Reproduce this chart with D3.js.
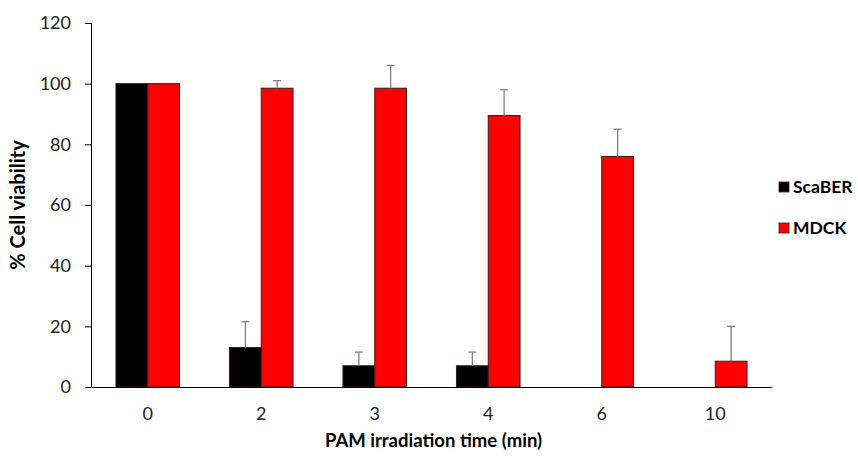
<!DOCTYPE html>
<html>
<head>
<meta charset="utf-8">
<style>
  body { margin: 0; background: #fff; }
  text { font-family: Lato, "Open Sans", sans-serif; }
</style>
</head>
<body>
<script src="https://d3js.org/d3.v7.min.js"></script>
<script>
  // data
  var times = ["0", "2", "3", "4", "6", "10"];
  var seriesNames = ["ScaBER", "MDCK"];
  var seriesColors = ["#000000", "#ff0000"];
  var scaber = [100, 13, 7, 7, 0, 0];
  var scaberErr = [0, 8.5, 4.5, 4.5, 0, 0];
  var mdck = [100, 98.5, 98.5, 89.5, 76, 8.5];
  var mdckErr = [0, 2.5, 7.5, 8.5, 9, 11.5];
  var yTicks = [0, 20, 40, 60, 80, 100, 120];

  var W = 858, H = 460;
  var margin = {top: 23, right: 86, bottom: 73, left: 91},
      width = W - margin.left - margin.right,
      height = H - margin.top - margin.bottom;

  var svg = d3.select("body").append("svg")
      .attr("width", W).attr("height", H);
  var g = svg.append("g")
      .attr("transform", "translate(" + margin.left + "," + margin.top + ")");

  var x0 = d3.scaleBand().domain(times).range([0, width]).paddingInner(0.44).paddingOuter(0.22);
  var x1 = d3.scaleBand().domain(seriesNames).range([0, x0.bandwidth()]);
  var y = d3.scaleLinear().domain([0, 120]).range([height, 0]);

  var values = [scaber, mdck];
  var errs = [scaberErr, mdckErr];

  var rows = [];
  times.forEach(function(t, i) {
    seriesNames.forEach(function(s, k) {
      rows.push({t: t, s: s, k: k, v: values[k][i], e: errs[k][i]});
    });
  });

  g.selectAll("rect.bar")
    .data(rows.filter(function(d) { return d.v > 0; }))
    .enter().append("rect")
      .attr("class", "bar")
      .attr("x", function(d) { return x0(d.t) + x1(d.s); })
      .attr("y", function(d) { return y(d.v); })
      .attr("width", x1.bandwidth())
      .attr("height", function(d) { return y(0) - y(d.v); })
      .attr("fill", function(d) { return seriesColors[d.k]; })
      .attr("stroke", "#3a1a1a")
      .attr("stroke-width", 1);

  // error bars (upper only)
  var eb = g.selectAll("g.err")
    .data(rows.filter(function(d) { return d.e > 0; }))
    .enter().append("g").attr("class", "err")
      .attr("stroke", "#808080").attr("stroke-width", 1.3);
  eb.append("line")
    .attr("x1", function(d) { return x0(d.t) + x1(d.s) + x1.bandwidth() / 2; })
    .attr("x2", function(d) { return x0(d.t) + x1(d.s) + x1.bandwidth() / 2; })
    .attr("y1", function(d) { return y(d.v); })
    .attr("y2", function(d) { return y(d.v + d.e); });
  eb.append("line")
    .attr("x1", function(d) { return x0(d.t) + x1(d.s) + x1.bandwidth() / 2 - 4; })
    .attr("x2", function(d) { return x0(d.t) + x1(d.s) + x1.bandwidth() / 2 + 4; })
    .attr("y1", function(d) { return y(d.v + d.e); })
    .attr("y2", function(d) { return y(d.v + d.e); });

  // y axis
  var yAxis = g.append("g")
    .call(d3.axisLeft(y).tickValues(yTicks).tickSize(6).tickPadding(14));
  yAxis.select(".domain").attr("stroke", "#000");
  yAxis.selectAll(".tick line").attr("stroke", "#000");
  yAxis.selectAll("text").attr("font-size", 18).attr("fill", "#222")
    .style("font-family", "Lato, sans-serif");

  // x axis
  var xAxis = g.append("g")
    .attr("transform", "translate(0," + height + ")")
    .call(d3.axisBottom(x0).tickSize(0).tickPadding(20));
  xAxis.select(".domain").attr("stroke", "#000").attr("d", "M0.5,0.5H" + width);
  xAxis.selectAll("text").attr("font-size", 18).attr("fill", "#222")
    .style("font-family", "Lato, sans-serif");

  // axis titles
  svg.append("text")
    .attr("x", margin.left + width / 2 + 2)
    .attr("y", 447)
    .attr("text-anchor", "middle")
    .attr("font-size", 18.5).attr("font-weight", "bold")
    .text("PAM irradiation time (min)");
  svg.append("text")
    .attr("transform", "translate(25," + (margin.top + height / 2) + ") rotate(-90)")
    .attr("text-anchor", "middle")
    .attr("font-size", 20).attr("font-weight", "bold")
    .text("% Cell viability");

  // legend
  var lg = svg.append("g").attr("transform", "translate(779,182)");
  seriesNames.forEach(function(s, k) {
    var row = lg.append("g").attr("transform", "translate(0," + (k * 41) + ")");
    row.append("rect").attr("width", 10).attr("height", 10)
      .attr("fill", seriesColors[k]).attr("stroke", "#3a1a1a").attr("stroke-width", 0.8);
    row.append("text").attr("x", 14).attr("y", 11)
      .attr("font-size", 17.5).attr("font-weight", "bold")
      .text(s);
  });
</script>
</body>
</html>
